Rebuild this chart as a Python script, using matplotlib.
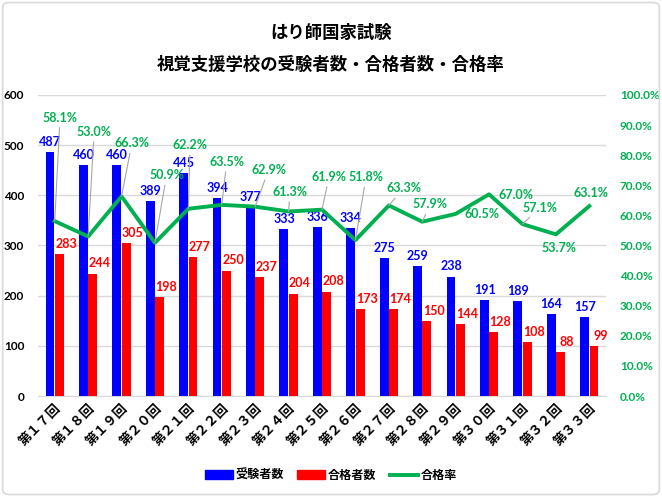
import matplotlib
matplotlib.use('Agg')
import matplotlib.pyplot as plt
from matplotlib.patches import Patch, FancyBboxPatch
from matplotlib.lines import Line2D
from matplotlib.ticker import FuncFormatter
import numpy as np

plt.rcParams['font.family'] = ['Lato', 'Noto Sans CJK JP', 'DejaVu Sans']

# ── Data ─────────────────────────────────────────────────────────────────────
categories = ['第１７回', '第１８回', '第１９回', '第２０回', '第２１回', '第２２回',
              '第２３回', '第２４回', '第２５回', '第２６回', '第２７回', '第２８回',
              '第２９回', '第３０回', '第３１回', '第３２回', '第３３回']
examinees = [487, 460, 460, 389, 445, 394, 377, 333, 336, 334, 275, 259, 238, 191, 189, 164, 157]
passed = [283, 244, 305, 198, 277, 250, 237, 204, 208, 173, 174, 150, 144, 128, 108, 88, 99]
pass_rate = [58.1, 53.0, 66.3, 50.9, 62.2, 63.5, 62.9, 61.3, 61.9, 51.8, 63.3, 57.9,
             60.5, 67.0, 57.1, 53.7, 63.1]

# hand-placed rate label spots (category index, percent) + whether a leader line shows
rate_label_pos = [(0.16, 92.5), (1.18, 87.8), (2.31, 84.0), (3.35, 73.4), (4.05, 83.4),
                  (5.15, 77.8), (6.40, 75.1), (7.04, 67.9), (8.21, 72.9), (9.32, 72.7),
                  (10.44, 69.0), (11.24, 63.7), (12.78, 60.4), (13.81, 66.8), (14.53, 62.6),
                  (15.08, 49.3), (16.05, 67.3)]
rate_leader = [True] * 12 + [False, False, True, False, False]

BLUE = '#0000FF'
RED = '#FF0000'
GREEN = '#00B050'
GRID = '#D9D9D9'
LEADER = '#A6A6A6'

fig = plt.figure(figsize=(6.62, 4.97), dpi=100, facecolor='white')
ax = fig.add_axes([0.0574, 0.2032, 0.858, 0.6057])
ax2 = ax.twinx()

x = np.arange(len(categories))
w = 0.265
ax.bar(x - w / 2 - 0.008, examinees, w, color=BLUE, zorder=3)
ax.bar(x + w / 2 + 0.008, passed, w, color=RED, zorder=3)

for xi, v in zip(x, examinees):
    ax.annotate(str(v), (xi - w / 2, v), xytext=(0, 3), textcoords='offset points',
                ha='center', va='bottom', fontsize=9, fontweight='bold', color=BLUE, zorder=5)
for xi, v in zip(x, passed):
    ax.annotate(str(v), (xi + w / 2, v), xytext=(5, 3), textcoords='offset points',
                ha='center', va='bottom', fontsize=9, fontweight='bold', color=RED, zorder=5)

ax.set_ylim(0, 600)
ax.set_yticks(range(0, 601, 100))
ax.set_xlim(-0.5, len(categories) - 0.5)
ax.grid(axis='y', color=GRID, linewidth=1, zorder=0)
ax.set_axisbelow(True)
for s in ['top', 'right', 'left']:
    ax.spines[s].set_visible(False)
ax.spines['bottom'].set_color(GRID)
ax.tick_params(axis='y', length=0, labelsize=8.5, pad=10)
for t in ax.get_yticklabels():
    t.set_fontweight('bold')
ax.set_xticks(x)
ax.set_xticklabels(categories, rotation=45, ha='right', rotation_mode='anchor',
                   fontsize=9.5, fontweight='bold')
ax.tick_params(axis='x', length=0, pad=4)

# rate line
ax2.plot(x, pass_rate, color=GREEN, linewidth=2.8, zorder=4)
ax2.set_ylim(0, 100)
ax2.set_yticks(range(0, 101, 10))
ax2.yaxis.set_major_formatter(FuncFormatter(lambda v, p: f'{v:.1f}%'))
ax2.tick_params(axis='y', length=0, labelsize=8.5, labelcolor=GREEN, pad=10)
for t in ax2.get_yticklabels():
    t.set_fontweight('bold')
for s in ax2.spines.values():
    s.set_visible(False)

for xi, v, (lx, ly), lead in zip(x, pass_rate, rate_label_pos, rate_leader):
    props = dict(arrowstyle='-', color=LEADER, lw=0.8, shrinkA=1, shrinkB=0) if lead else None
    ax2.annotate(f'{v:.1f}%', xy=(xi, v), xytext=(lx, ly), textcoords='data',
                 ha='center', va='center', fontsize=9, fontweight='bold', color=GREEN,
                 arrowprops=props, zorder=6)

# titles
fig.text(0.5, 0.934, 'はり師国家試験', ha='center', va='center', fontsize=12.5,
         fontweight='bold', family=['Noto Sans CJK JP'])
fig.text(0.5, 0.869, '視覚支援学校の受験者数・合格者数・合格率', ha='center', va='center',
         fontsize=12.5, fontweight='bold', family=['Noto Sans CJK JP'])

handles = [Patch(color=BLUE, label='受験者数'),
           Patch(color=RED, label='合格者数'),
           Line2D([0], [0], color=GREEN, linewidth=2.8, label='合格率')]
fig.legend(handles=handles, loc='center', bbox_to_anchor=(0.5, 0.043), ncol=3,
           frameon=False, handlelength=2.3, handleheight=0.75,
           columnspacing=1.1, handletextpad=0.25,
           prop={'family': ['Noto Sans CJK JP'], 'weight': 'bold', 'size': 8.7})

# figure border
fig.patches.append(FancyBboxPatch((0.004, 0.005), 0.992, 0.99, boxstyle='round,pad=0,rounding_size=0.01',
                                  transform=fig.transFigure, fill=False,
                                  edgecolor='#D9D9D9', linewidth=1.2))

fig.savefig('out.png', dpi=100, facecolor='white')
